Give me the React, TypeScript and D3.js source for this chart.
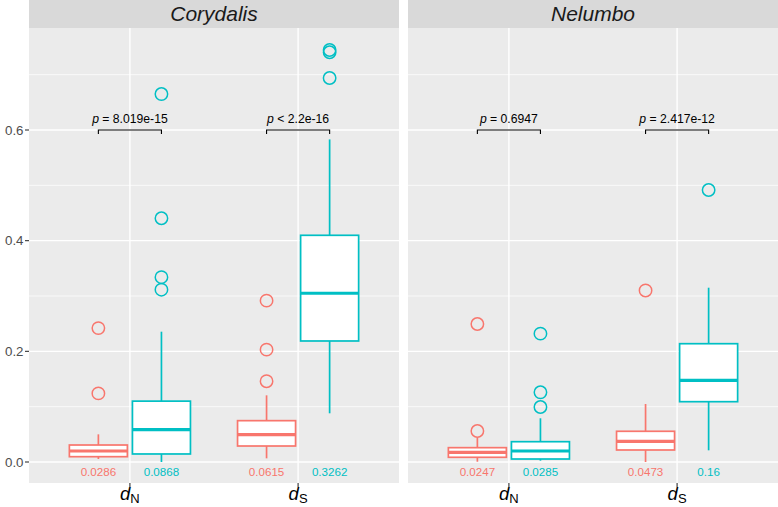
import React from "react";
import * as d3 from "d3";

const panels = ["Corydalis", "Nelumbo"];
const categories = ["dN", "dS"];
const groups = ["A", "B"];
const groupColors = ["#F8766D", "#00BFC4"];

// order: panel -> category -> group
const lowerWhisker = [0.0054, 0.0, 0.0066, 0.088, 0.0005, 0.0024, 0.0, 0.0211];
const q1 = [0.0096, 0.0145, 0.0289, 0.2187, 0.0085, 0.0054, 0.0217, 0.109];
const medianVals = [0.0199, 0.0584, 0.0494, 0.305, 0.0175, 0.0199, 0.0374, 0.1476];
const q3 = [0.0307, 0.110, 0.0747, 0.4097, 0.0259, 0.0367, 0.0555, 0.2138];
const upperWhisker = [0.050, 0.2355, 0.1205, 0.583, 0.044, 0.079, 0.1048, 0.315];
const outliers = [
  [0.124, 0.242],
  [0.3114, 0.334, 0.4405, 0.665],
  [0.146, 0.203, 0.2916],
  [0.694, 0.7405, 0.7446],
  [0.056, 0.2494],
  [0.0994, 0.126, 0.232],
  [0.31],
  [0.4916],
];
const meanLabels = ["0.0286", "0.0868", "0.0615", "0.3262", "0.0247", "0.0285", "0.0473", "0.16"];
const pLabels = [
  ["=", "8.019e-15"],
  ["<", "2.2e-16"],
  ["=", "0.6947"],
  ["=", "2.417e-12"],
];
const yTicks = [0, 0.2, 0.4, 0.6];
const yMinor = [0.1, 0.3, 0.5, 0.7];
const bracketLevel = 0.6;

const W = 778;
const H = 507;
const panelLefts = [29, 408];
const panelWidth = 370;
const stripTop = 0;
const stripH = 28;
const panelTop = 28;
const panelBottom = 483;
const FONT = "'Liberation Sans', Arial, Helvetica, sans-serif";

export default function App() {
  const y = d3.scaleLinear().domain([0, 0.6]).range([462, 130]);
  const dodge = 0.1875;
  const boxHalf = 0.1725;

  return (
    <svg
      width={W}
      height={H}
      style={{ position: "absolute", left: 0, top: 0, display: "block", background: "#fff" }}
      fontFamily={FONT}
    >
      {panels.map((panel, pi) => {
        const left = panelLefts[pi];
        const x = d3.scaleLinear().domain([0.4, 2.6]).range([left, left + panelWidth]);
        return (
          <g key={panel}>
            <rect x={left} y={stripTop} width={panelWidth} height={stripH} fill="#D9D9D9" />
            <text
              x={left + panelWidth / 2}
              y={stripTop + 20.5}
              textAnchor="middle"
              fontStyle="italic"
              fontSize={21}
              fill="#1A1A1A"
            >
              {panel}
            </text>
            <rect x={left} y={panelTop} width={panelWidth} height={panelBottom - panelTop} fill="#EBEBEB" />
            {yMinor.map((v) => (
              <line key={"mn" + v} x1={left} x2={left + panelWidth} y1={y(v)} y2={y(v)} stroke="#fff" strokeWidth={0.7} />
            ))}
            {yTicks.map((v) => (
              <line key={"mj" + v} x1={left} x2={left + panelWidth} y1={y(v)} y2={y(v)} stroke="#fff" strokeWidth={1.4} />
            ))}
            {categories.map((c, ci) => (
              <line key={"vx" + c} x1={x(ci + 1)} x2={x(ci + 1)} y1={panelTop} y2={panelBottom} stroke="#fff" strokeWidth={1.4} />
            ))}
            {categories.map((c, ci) => {
              const idx = pi * 2 + ci;
              const [op, val] = pLabels[idx];
              const bx1 = x(ci + 1 - dodge);
              const bx2 = x(ci + 1 + dodge);
              const by = y(bracketLevel);
              return (
                <g key={"br" + c}>
                  <path
                    d={`M${bx1},${by + 4}V${by}H${bx2}V${by + 4}`}
                    fill="none"
                    stroke="#000"
                    strokeWidth={1.1}
                  />
                  <text x={(bx1 + bx2) / 2} y={by - 7} textAnchor="middle" fontSize={12.2} fill="#000">
                    <tspan fontStyle="italic">p</tspan>
                    <tspan>{` ${op} ${val}`}</tspan>
                  </text>
                </g>
              );
            })}
            {categories.map((c, ci) =>
              groups.map((g, gi) => {
                const idx = pi * 4 + ci * 2 + gi;
                const cx = ci + 1 + (gi === 0 ? -dodge : dodge);
                const color = groupColors[gi];
                const xl = x(cx - boxHalf);
                const xr = x(cx + boxHalf);
                const xc = x(cx);
                return (
                  <g key={c + g}>
                    <line x1={xc} x2={xc} y1={y(upperWhisker[idx])} y2={y(q3[idx])} stroke={color} strokeWidth={1.7} />
                    <line x1={xc} x2={xc} y1={y(q1[idx])} y2={y(lowerWhisker[idx])} stroke={color} strokeWidth={1.7} />
                    <rect
                      x={xl}
                      y={y(q3[idx])}
                      width={xr - xl}
                      height={y(q1[idx]) - y(q3[idx])}
                      fill="#fff"
                      stroke={color}
                      strokeWidth={1.7}
                    />
                    <line x1={xl} x2={xr} y1={y(medianVals[idx])} y2={y(medianVals[idx])} stroke={color} strokeWidth={3.2} />
                    {outliers[idx].map((o, oi) => (
                      <circle key={oi} cx={xc} cy={y(o)} r={6.2} fill="none" stroke={color} strokeWidth={1.5} />
                    ))}
                    <text x={xc} y={y(0) + 14} textAnchor="middle" fontSize={11.6} fill={color}>
                      {meanLabels[idx]}
                    </text>
                  </g>
                );
              })
            )}
            {categories.map((c, ci) => (
              <g key={"xl" + c}>
                <line x1={x(ci + 1)} x2={x(ci + 1)} y1={panelBottom} y2={panelBottom + 4} stroke="#333" strokeWidth={1.1} />
                <text x={x(ci + 1)} y={499.5} textAnchor="middle" fill="#000">
                  <tspan fontStyle="italic" fontSize={18.5}>{c[0]}</tspan>
                  <tspan fontSize={13} dy={3.5}>{c[1]}</tspan>
                </text>
              </g>
            ))}
          </g>
        );
      })}
      {yTicks.map((v) => (
        <g key={"yt" + v}>
          <line x1={25} x2={29} y1={y(v)} y2={y(v)} stroke="#333" strokeWidth={1.1} />
          <text x={23.5} y={y(v) + 4.7} textAnchor="end" fontSize={13.3} fill="#4D4D4D">
            {d3.format(".1f")(v)}
          </text>
        </g>
      ))}
    </svg>
  );
}
